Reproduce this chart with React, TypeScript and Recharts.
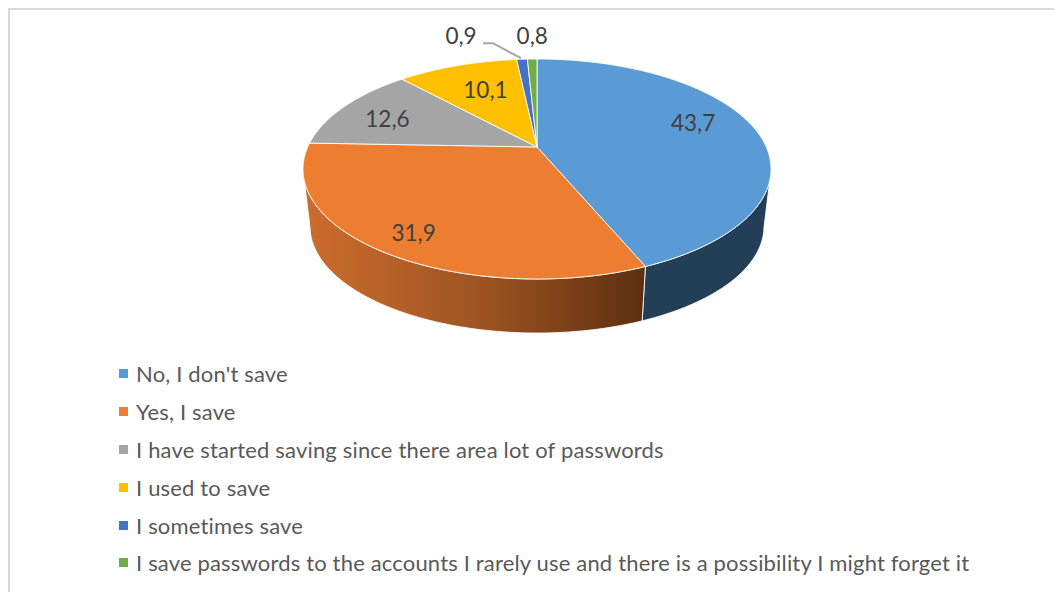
import React from 'react';
import { PieChart, Pie, Legend } from 'recharts';

const categories = [
  "No, I don't save",
  'Yes, I save',
  'I have started saving since there area lot of passwords',
  'I used to save',
  'I sometimes save',
  'I save passwords to the accounts I rarely use and there is a possibility I might forget it',
];
const shares = [43.7, 31.9, 12.6, 10.1, 0.9, 0.8];

const faceColors = ['#5B9BD5', '#ED7D31', '#A5A5A5', '#FFC000', '#4472C4', '#70AD47'];
const wallColors = ['#233F57', 'url(#orangeWall)', '#6B6B6B', '#A67D00', '#2C4A80', '#49702E'];

// where each label sits: fraction of the radius, then a nudge in pixels
const labelPlacement = [
  { f: 0.7, dx: 3, dy: -10 },
  { f: 0.7, dx: -20, dy: 17 },
  { f: 0.7, dx: -12, dy: 1 },
  { f: 0.7, dx: 7, dy: 2 },
  { f: 1, dx: -61, dy: -24 },
  { f: 1, dx: 0, dy: -24 },
];

const faceData = categories.map((name, i) => ({ name, value: shares[i], fill: faceColors[i] }));
const wallData = categories.map((name, i) => ({ name, value: shares[i], fill: wallColors[i] }));

const CX = 529;
const CY = 139;
const RADIUS = 229.3;
const SQUASH = 0.4605; // vertical foreshortening of the disc
const TILT = 0.2; // far side of the disc shrinks by this much
const WALL_DROP = 58;
const WALL_SCALE = 0.97;
// polar angles where the disc is widest; only the rim between them faces the viewer
const RIM_RIGHT = -12;
const RIM_LEFT = -168;

// tilted disc projection; angle is the usual polar one, f is the fraction of the radius
const project = (cx: number, cy: number, r: number, angle: number, f = 1, scale = 1, drop = 0) => {
  const theta = ((90 - angle) * Math.PI) / 180;
  const u = Math.sin(theta) * f;
  const v = Math.cos(theta) * f;
  const w = 1 + TILT * v;
  return { x: cx + (scale * r * u) / w, y: cy + drop - (scale * r * SQUASH * v) / w };
};

const arcPoints = (p: any, scale = 1, drop = 0) => {
  const steps = Math.max(2, Math.ceil(Math.abs(p.endAngle - p.startAngle)));
  const pts = [];
  for (let i = 0; i <= steps; i++) {
    const a = p.startAngle + ((p.endAngle - p.startAngle) * i) / steps;
    pts.push(project(p.cx, p.cy, p.outerRadius, a, 1, scale, drop));
  }
  return pts;
};

const toPath = (pts: { x: number; y: number }[]) =>
  pts.map((q, i) => `${i ? 'L' : 'M'}${q.x.toFixed(2)},${q.y.toFixed(2)}`).join(' ');

const FaceShape = (props: any) => {
  const apex = project(props.cx, props.cy, props.outerRadius, 0, 0);
  const d = `${toPath([apex, ...arcPoints(props)])} Z`;
  return <path d={d} fill={props.fill} stroke="#ffffff" strokeOpacity={0.85} strokeWidth={1} strokeLinejoin="round" />;
};

const WallShape = (props: any) => {
  const startAngle = Math.min(props.startAngle, RIM_RIGHT);
  const endAngle = Math.max(props.endAngle, RIM_LEFT);
  if (startAngle <= endAngle) return null;
  const visible = { ...props, startAngle, endAngle };
  const top = arcPoints(visible);
  const bottom = arcPoints(visible, WALL_SCALE, WALL_DROP).reverse();
  const d = `${toPath([...top, ...bottom])} Z`;
  return <path d={d} fill={props.fill} stroke="#ffffff" strokeOpacity={0.85} strokeWidth={1} strokeLinejoin="round" />;
};

const renderLabel = (props: any) => {
  const { cx, cy, outerRadius, midAngle, index, value } = props;
  const place = labelPlacement[index];
  const at = project(cx, cy, outerRadius, midAngle, place.f);
  const x = at.x + place.dx;
  const y = at.y + place.dy;
  return (
    <g>
      {index === 4 && (
        <polyline
          points={`${x + 22},${y + 8} ${x + 32},${y + 8} ${at.x - 1},${at.y - 1}`}
          fill="none"
          stroke="#A6A6A6"
          strokeWidth={2}
        />
      )}
      <text
        x={x}
        y={y}
        textAnchor="middle"
        dominantBaseline="central"
        fontFamily="Lato, sans-serif"
        fontSize={22.5}
        fill="#404040"
      >
        {String(value).replace('.', ',')}
      </text>
    </g>
  );
};

const LegendList = ({ payload }: any) => (
  <div>
    {(payload || [])
      .filter((entry: any) => entry.type !== 'none')
      .map((entry: any) => (
        <div
          key={entry.value}
          style={{
            display: 'flex',
            alignItems: 'center',
            height: 37.8,
            fontFamily: 'Lato, sans-serif',
            fontSize: 22,
            letterSpacing: 0.17,
            color: '#595959',
            whiteSpace: 'nowrap',
          }}
        >
          <span style={{ width: 9, height: 9, marginRight: 8, background: entry.color, flex: 'none' }} />
          {entry.value}
        </div>
      ))}
  </div>
);

export default function App() {
  return (
    <div style={{ position: 'relative', width: 1054, height: 584, overflow: 'hidden' }}>
      <PieChart width={1054} height={584} margin={{ top: 0, right: 0, bottom: 0, left: 0 }}>
        <defs>
          <linearGradient id="orangeWall" gradientUnits="userSpaceOnUse" x1={300} y1={0} x2={636} y2={0}>
            <stop offset="0%" stopColor="#CB6C2C" />
            <stop offset="50%" stopColor="#9F5522" />
            <stop offset="100%" stopColor="#5E2F0F" />
          </linearGradient>
        </defs>
        <Pie
          data={wallData}
          dataKey="value"
          nameKey="name"
          cx={CX}
          cy={CY}
          outerRadius={RADIUS}
          startAngle={90}
          endAngle={-270}
          shape={WallShape}
          legendType="none"
          label={false}
          labelLine={false}
          isAnimationActive={false}
        />
        <Pie
          data={faceData}
          dataKey="value"
          nameKey="name"
          cx={CX}
          cy={CY}
          outerRadius={RADIUS}
          startAngle={90}
          endAngle={-270}
          shape={FaceShape}
          label={renderLabel}
          labelLine={false}
          isAnimationActive={false}
        />
        <Legend
          content={<LegendList />}
          layout="vertical"
          itemSorter={null}
          wrapperStyle={{ left: 111, top: 347, width: 900, bottom: 'auto' }}
        />
      </PieChart>
      <div
        style={{
          position: 'absolute',
          left: 0,
          top: 0,
          right: 0,
          bottom: 0,
          boxSizing: 'border-box',
          borderTop: '2px solid #D9D9D9',
          borderLeft: '2px solid #D9D9D9',
          pointerEvents: 'none',
        }}
      />
    </div>
  );
}
